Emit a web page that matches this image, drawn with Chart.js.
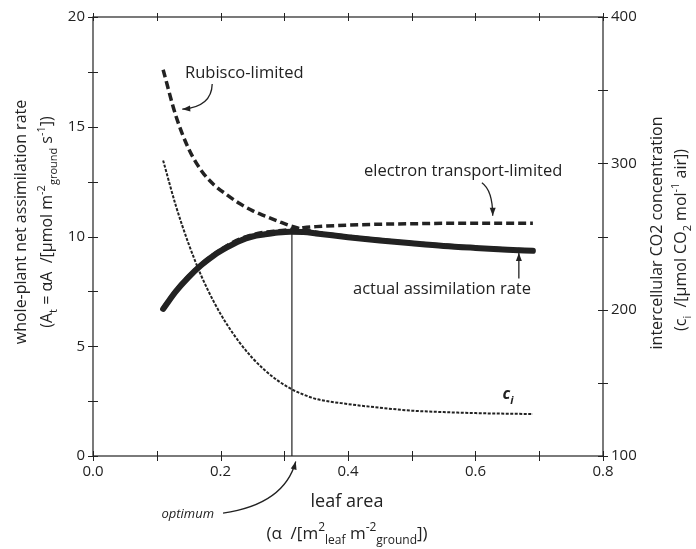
<!DOCTYPE html>
<html>
<head>
<meta charset="utf-8">
<script src="https://cdn.jsdelivr.net/npm/chart.js@4.4.1/dist/chart.umd.min.js"></script>
<style>
    html, body { margin: 0; padding: 0; background: #fff; }
    #wrap { width: 696px; height: 549px; }
</style>
</head>
<body>
<div id="wrap"><canvas id="leafChart" width="696" height="549"></canvas></div>
<script>
// leaf area (m2 leaf per m2 ground)
const leafArea = [0.11, 0.13, 0.15, 0.17, 0.19, 0.21, 0.23, 0.25, 0.27, 0.29, 0.31, 0.33, 0.35, 0.40, 0.45, 0.50, 0.55, 0.60, 0.65, 0.69];

// whole-plant assimilation (left axis)
const rubiscoLimited  = [17.6, 15.5, 14.0, 13.0, 12.35, 11.9, 11.5, 11.18, 10.93, 10.7, 10.48, 10.32, 10.2, 10.01, 9.86, 9.72, 9.61, 9.51, 9.43, 9.38];
const electronLimited = [6.75, 7.55, 8.2, 8.75, 9.2, 9.58, 9.88, 10.08, 10.2, 10.26, 10.32, 10.4, 10.45, 10.52, 10.56, 10.58, 10.6, 10.6, 10.6, 10.6];
const actualRate      = [6.7, 7.5, 8.15, 8.7, 9.15, 9.5, 9.8, 10.0, 10.1, 10.18, 10.22, 10.2, 10.14, 9.97, 9.82, 9.69, 9.57, 9.48, 9.4, 9.35];

// intercellular CO2 (right axis)
const ciConc = [302, 271, 245, 223, 205, 190, 177.5, 167, 158.5, 151.5, 146, 142, 139, 135.5, 133, 131, 130, 129.3, 128.9, 128.7];

const optimumArea = 0.312;
const optimumRate = 10.22;

const xTickLabels = [0.0, 0.2, 0.4, 0.6, 0.8];
const yTickLabels = [0, 5, 10, 15, 20];
const y2TickLabels = [100, 200, 300, 400];

const FONT = '"Open Sans", "DejaVu Sans", sans-serif';
const INK = '#222';

const toPoints = (ys) => leafArea.map((x, i) => ({ x: x, y: ys[i] }));

// draws text with sub/superscript pieces, centred or left aligned at (x, y)
function drawRich(ctx, parts, x, y, size, align, style) {
    const big = `${style || ''} ${size}px ${FONT}`;
    const small = `${style || ''} ${Math.round(size * 0.7)}px ${FONT}`;
    let total = 0;
    parts.forEach(p => {
        ctx.font = p.s ? small : big;
        total += ctx.measureText(p.t).width;
    });
    let cx = align === 'left' ? x : (align === 'right' ? x - total : x - total / 2);
    ctx.textBaseline = 'alphabetic';
    ctx.textAlign = 'left';
    const base = y + size * 0.36;
    parts.forEach(p => {
        ctx.font = p.s ? small : big;
        let dy = 0;
        if (p.s === 'sub') dy = size * 0.3;
        if (p.s === 'sup') dy = -size * 0.45;
        ctx.fillText(p.t, cx, base + dy);
        cx += ctx.measureText(p.t).width;
    });
}

function arrow(ctx, x0, y0, cx, cy, x1, y1) {
    ctx.beginPath();
    ctx.moveTo(x0, y0);
    ctx.quadraticCurveTo(cx, cy, x1, y1);
    ctx.stroke();
    const ang = Math.atan2(y1 - cy, x1 - cx);
    const L = 8, W = 3;
    ctx.beginPath();
    ctx.moveTo(x1, y1);
    ctx.lineTo(x1 - L * Math.cos(ang) + W * Math.sin(ang), y1 - L * Math.sin(ang) - W * Math.cos(ang));
    ctx.lineTo(x1 - L * Math.cos(ang) - W * Math.sin(ang), y1 - L * Math.sin(ang) + W * Math.cos(ang));
    ctx.closePath();
    ctx.fill();
}

const decorations = {
    id: 'decorations',
    afterDraw(chart) {
        const ctx = chart.ctx;
        const a = chart.chartArea;
        const xs = chart.scales.x, ys = chart.scales.y, y2 = chart.scales.y2;
        ctx.save();
        ctx.strokeStyle = INK;
        ctx.fillStyle = INK;

        // frame
        ctx.lineWidth = 1.2;
        ctx.strokeRect(a.left, a.top, a.right - a.left, a.bottom - a.top);

        // ticks crossing the frame
        ctx.lineWidth = 1;
        ctx.beginPath();
        for (let v = 0; v <= 0.8001; v += 0.1) {
            const px = Math.round(xs.getPixelForValue(v)) + 0.5;
            ctx.moveTo(px, a.bottom - 5); ctx.lineTo(px, a.bottom + 5);
            ctx.moveTo(px, a.top - 4); ctx.lineTo(px, a.top + 4);
        }
        for (let v = 0; v <= 20.001; v += 2.5) {
            const py = Math.round(ys.getPixelForValue(v)) + 0.5;
            ctx.moveTo(a.left - 5, py); ctx.lineTo(a.left + 5, py);
        }
        for (let v = 100; v <= 400.001; v += 50) {
            const py = Math.round(y2.getPixelForValue(v)) + 0.5;
            ctx.moveTo(a.right - 5, py); ctx.lineTo(a.right + 5, py);
        }
        ctx.stroke();

        // curve labels
        ctx.textAlign = 'left';
        ctx.textBaseline = 'middle';
        ctx.font = `16.5px ${FONT}`;
        ctx.fillText('Rubisco-limited', 185, 73);
        ctx.fillText('electron transport-limited', 364, 171);
        ctx.fillText('actual assimilation rate', 353, 289);
        drawRich(ctx, [{ t: 'c', s: null }, { t: 'i', s: 'sub' }], 508, 393, 16, 'center', 'italic bold');
        ctx.font = `italic 13px ${FONT}`;
        ctx.textAlign = 'right';
        ctx.textBaseline = 'middle';
        ctx.fillText('optimum', 214, 514);

        // arrows
        ctx.lineWidth = 1.3;
        const P = (x, y) => [xs.getPixelForValue(x), ys.getPixelForValue(y)];
        arrow(ctx, ...P(0.187, 16.95), ...P(0.186, 15.9), ...P(0.140, 15.8));
        arrow(ctx, ...P(0.610, 12.45), ...P(0.627, 12.1), ...P(0.627, 10.95));
        arrow(ctx, ...P(0.668, 8.09), ...P(0.668, 8.7), ...P(0.668, 9.25));
        arrow(ctx, ...P(0.204, -2.6), ...P(0.300, -2.2), ...P(0.318, -0.25));

        // axis titles
        ctx.fillStyle = INK;
        ctx.font = `18px ${FONT}`;
        ctx.textAlign = 'center';
        ctx.textBaseline = 'middle';
        ctx.fillText('leaf area', 347, 502);
        drawRich(ctx, [
            { t: '(α  /[m' }, { t: '2', s: 'sup' }, { t: 'leaf', s: 'sub' },
            { t: ' m' }, { t: '-2', s: 'sup' }, { t: 'ground', s: 'sub' }, { t: '])' }
        ], 347, 533, 17, 'center');

        ctx.save();
        ctx.translate(21, 222);
        ctx.rotate(-Math.PI / 2);
        ctx.font = `16px ${FONT}`;
        ctx.textAlign = 'center';
        ctx.textBaseline = 'middle';
        ctx.fillText('whole-plant net assimilation rate', 0, 0);
        ctx.restore();

        ctx.save();
        ctx.translate(46, 222);
        ctx.rotate(-Math.PI / 2);
        drawRich(ctx, [
            { t: '(A' }, { t: 't', s: 'sub' }, { t: ' = αA  /[µmol m' },
            { t: '-2', s: 'sup' }, { t: 'ground', s: 'sub' }, { t: ' s' }, { t: '-1', s: 'sup' }, { t: '])' }
        ], 0, 0, 16, 'center');
        ctx.restore();

        ctx.save();
        ctx.translate(657, 233);
        ctx.rotate(-Math.PI / 2);
        ctx.font = `16px ${FONT}`;
        ctx.textAlign = 'center';
        ctx.textBaseline = 'middle';
        ctx.fillText('intercellular CO2 concentration', 0, 0);
        ctx.restore();

        ctx.save();
        ctx.translate(680, 240);
        ctx.rotate(-Math.PI / 2);
        drawRich(ctx, [
            { t: '(c' }, { t: 'i', s: 'sub' }, { t: '  /[µmol CO' }, { t: '2', s: 'sub' },
            { t: ' mol' }, { t: '-1', s: 'sup' }, { t: ' air])' }
        ], 0, 0, 16, 'center');
        ctx.restore();

        ctx.restore();
    }
};

new Chart(document.getElementById('leafChart'), {
    type: 'line',
    data: {
        datasets: [
            {
                label: 'Rubisco-limited',
                data: toPoints(rubiscoLimited),
                yAxisID: 'y',
                borderColor: INK,
                borderWidth: 3.5,
                borderDash: [8, 4],
                pointRadius: 0,
                fill: false,
                cubicInterpolationMode: 'monotone'
            },
            {
                label: 'electron transport-limited',
                data: toPoints(electronLimited),
                yAxisID: 'y',
                borderColor: INK,
                borderWidth: 3.5,
                borderDash: [8, 4],
                pointRadius: 0,
                fill: false,
                cubicInterpolationMode: 'monotone'
            },
            {
                label: 'actual assimilation rate',
                data: toPoints(actualRate),
                yAxisID: 'y',
                borderColor: INK,
                borderWidth: 6,
                borderCapStyle: 'round',
                pointRadius: 0,
                fill: false,
                cubicInterpolationMode: 'monotone'
            },
            {
                label: 'ci',
                data: toPoints(ciConc),
                yAxisID: 'y2',
                borderColor: INK,
                borderWidth: 2,
                borderDash: [3, 1.5],
                pointRadius: 0,
                fill: false,
                cubicInterpolationMode: 'monotone'
            },
            {
                label: 'optimum',
                data: [{ x: optimumArea, y: 0 }, { x: optimumArea, y: optimumRate }],
                yAxisID: 'y',
                borderColor: INK,
                borderWidth: 1.2,
                pointRadius: 0,
                fill: false
            }
        ]
    },
    options: {
        responsive: false,
        animation: false,
        layout: { padding: { top: 16, bottom: 0, left: 0, right: 0 } },
        plugins: {
            legend: { display: false },
            tooltip: { enabled: false }
        },
        scales: {
            x: {
                type: 'linear',
                position: 'bottom',
                min: 0,
                max: 0.8,
                afterBuildTicks: (s) => { s.ticks = xTickLabels.map(v => ({ value: v })); },
                afterFit: (s) => { s.height = 93; },
                grid: { display: false, drawTicks: false },
                border: { display: false },
                ticks: {
                    color: INK,
                    padding: 7,
                    font: { family: FONT, size: 15 },
                    callback: (v) => Number(v).toFixed(1)
                }
            },
            y: {
                type: 'linear',
                position: 'left',
                min: 0,
                max: 20,
                afterBuildTicks: (s) => { s.ticks = yTickLabels.map(v => ({ value: v })); },
                afterFit: (s) => { s.width = 93; },
                grid: { display: false, drawTicks: false },
                border: { display: false },
                ticks: { color: INK, padding: 8, font: { family: FONT, size: 15 } }
            },
            y2: {
                type: 'linear',
                position: 'right',
                min: 100,
                max: 400,
                afterBuildTicks: (s) => { s.ticks = y2TickLabels.map(v => ({ value: v })); },
                afterFit: (s) => { s.width = 93; },
                grid: { display: false, drawTicks: false },
                border: { display: false },
                ticks: { color: INK, padding: 8, font: { family: FONT, size: 15 } }
            }
        }
    },
    plugins: [decorations]
});
</script>
</body>
</html>
